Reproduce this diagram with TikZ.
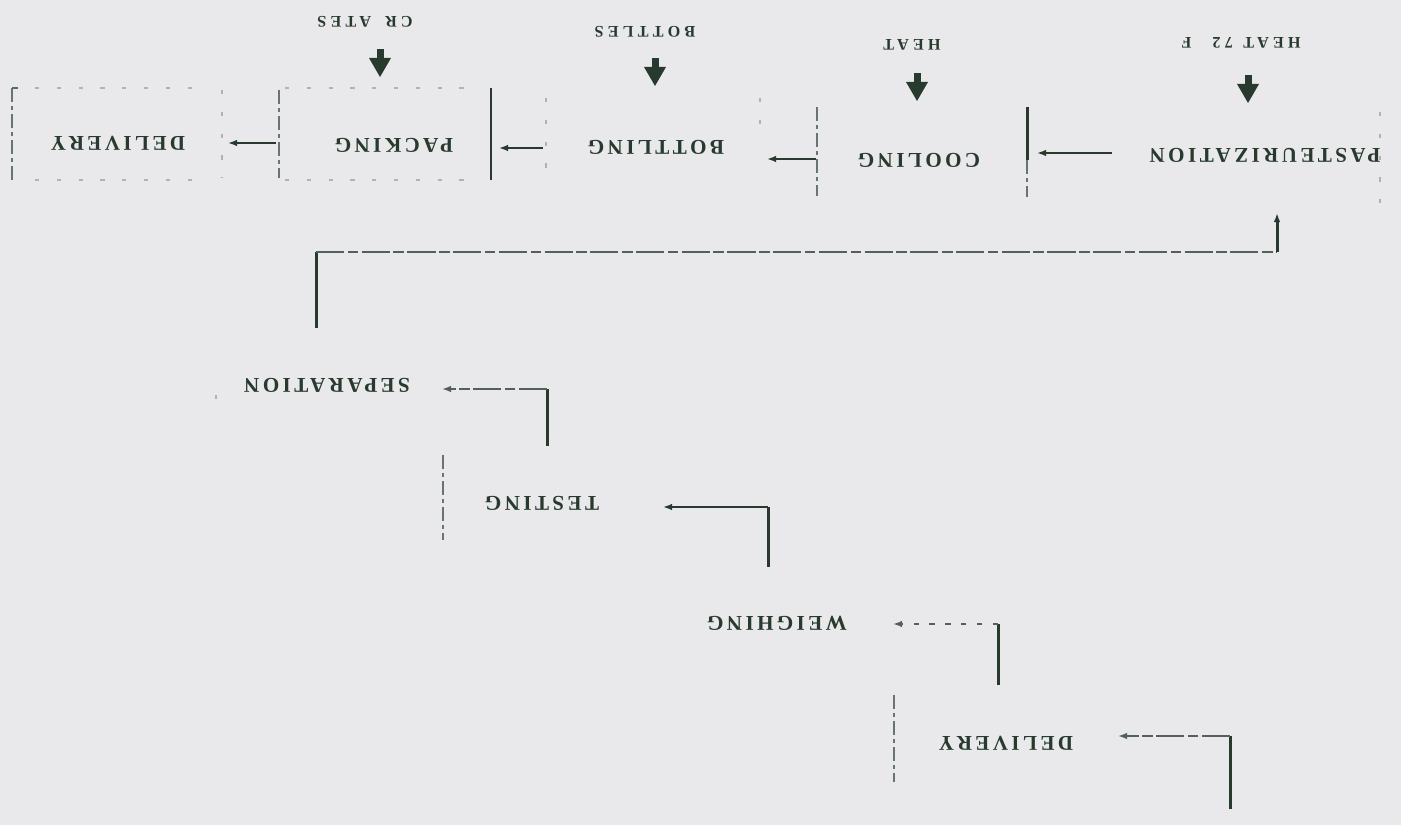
\documentclass[tikz,border=0pt]{standalone}
\usepackage{fontspec}
\setmainfont{Liberation Serif}
\newfontfamily\labfont[LetterSpace=16]{Liberation Serif}
\newfontfamily\smlfont[LetterSpace=26]{Liberation Serif}
\usetikzlibrary{arrows.meta}
\definecolor{ink}{RGB}{40,58,46}
\definecolor{faint}{RGB}{175,180,177}
\definecolor{bg}{RGB}{233,233,235}
\begin{document}
\begin{tikzpicture}[x=0.01cm,y=-0.01cm,
  lbl/.style={rotate=180,inner sep=0pt,text=ink,font=\labfont\bfseries\fontsize{6}{7}\selectfont},
  slbl/.style={rotate=180,inner sep=0pt,text=ink,font=\smlfont\bfseries\fontsize{4.6}{5}\selectfont},
  vl/.style={draw=ink,line width=0.85pt},
  hl/.style={draw=ink,line width=0.5pt},
  hlb/.style={draw=ink!80,line width=0.45pt,dash pattern=on 8pt off 1pt on 3pt off 1pt},
  hld/.style={draw=ink!80,line width=0.5pt,dash pattern=on 1.5pt off 3pt},
  arrowtip/.style={-{Latex[length=2.6pt,width=1.9pt]}},
  boxedge/.style={draw=ink!70,line width=0.45pt,dash pattern=on 4pt off 1.2pt on 1pt off 1.2pt},
  fedge/.style={draw=faint,line width=0.4pt,dash pattern=on 1.2pt off 5pt},
  bigarrow/.pic={\fill[ink] (-3.5,0) rectangle (3.5,11);
                 \fill[ink] (-11,9) -- (11,9) -- (0,28) -- cycle;}
]
\fill[bg] (0,0) rectangle (1401,825);
\useasboundingbox (0,0) rectangle (1401,825);

% ---------- top row labels ----------
\node[lbl] (past) at (1265,155) {PASTEURIZATION};
\node[lbl] (cool) at (919,160) {COOLING};
\node[lbl] (bott) at (656,147) {BOTTLING};
\node[lbl] (pack) at (394,145) {PACKING};
\node[lbl] (deliva) at (118,143) {DELIVERY};

% input labels
\node[slbl] (heatA) at (1241,43) {HEAT\hspace{3pt}72\hspace{6pt}F};
\node[slbl] (heatB) at (912,45) {HEAT};
\node[slbl] (bottles) at (645,32) {BOTTLES};
\node[slbl] (crates) at (365,22) {CR\hspace{4pt}ATES};

% block arrows
\pic at (1248,75) {bigarrow};
\pic at (917,73) {bigarrow};
\pic at (655,58) {bigarrow};
\pic at (380,49) {bigarrow};

% box edges top row
\draw[vl] (1027,107) -- (1027,160);
\draw[boxedge] (1027,160) -- (1027,197);
\draw[fedge] (1380,112) -- (1380,205);
\draw[boxedge] (817,107) -- (817,196);
\draw[fedge] (760,98) -- (760,124);
\draw[fedge] (546,98) -- (546,176);
\draw[draw=ink,line width=0.6pt] (491,88) -- (491,180);
\draw[fedge] (285,88) -- (475,88);
\draw[fedge] (285,180) -- (475,180);
\draw[boxedge] (279,90) -- (279,178);
\draw[boxedge] (12,88) -- (12,180);
\draw[draw=ink!75,line width=0.45pt] (12,88) -- (18,88);
\draw[fedge] (222,90) -- (222,178);
\draw[fedge] (35,88) -- (205,88);
\draw[fedge] (35,180) -- (205,180);

% top row arrows
\coordinate (a1s) at (1112,153); \coordinate (a1e) at (1037,153);
\coordinate (a2s) at (816,159);  \coordinate (a2e) at (767,159);
\coordinate (a3s) at (543,148);  \coordinate (a3e) at (499,148);
\coordinate (a4s) at (276,143);  \coordinate (a4e) at (228,143);
\draw[hl,arrowtip] (a1s) -- (a1e);
\draw[hl,arrowtip] (a2s) -- (a2e);
\draw[hl,arrowtip] (a3s) -- (a3e);
\draw[hl,arrowtip] (a4s) -- (a4e);

% ---------- staircase labels ----------
\node[lbl] (sep) at (327,385) {SEPARATION};
\node[lbl] (test) at (542,503) {TESTING};
\node[lbl] (weigh) at (777,623) {WEIGHING};
\node[lbl] (delivb) at (1006,743) {DELIVERY};

\draw[fedge] (216,395) -- (216,414);
\draw[boxedge] (443,455) -- (443,540);
\draw[boxedge] (894,695) -- (894,782);

% separation -> pasteurization
\coordinate (sepsrc) at (316,328);
\coordinate (pbend) at (1277,252);
\coordinate (pastin) at (1277,213);
\draw[vl] (sepsrc) -- (sepsrc |- pbend);
\draw[hlb] (sepsrc |- pbend) -- (pbend);
\draw[vl,arrowtip] (pbend) -- (pastin);

% testing -> separation
\coordinate (tsrc) at (547,446);
\coordinate (sepin) at (442,389);
\draw[vl] (tsrc) -- (tsrc |- sepin);
\draw[hlb,arrowtip] (tsrc |- sepin) -- (sepin);

% weighing -> testing
\coordinate (wsrc) at (768,567);
\coordinate (testin) at (663,507);
\draw[vl] (wsrc) -- (wsrc |- testin);
\draw[hl,arrowtip] (wsrc |- testin) -- (testin);

% delivery -> weighing
\coordinate (dsrc) at (998,685);
\coordinate (weighin) at (893,624);
\draw[vl] (dsrc) -- (dsrc |- weighin);
\draw[hld,arrowtip] (dsrc |- weighin) -- (weighin);

% bottom source -> delivery
\coordinate (bsrc) at (1230,809);
\coordinate (delin) at (1118,736);
\draw[vl] (bsrc) -- (bsrc |- delin);
\draw[hlb,arrowtip] (bsrc |- delin) -- (delin);
\end{tikzpicture}
\end{document}
